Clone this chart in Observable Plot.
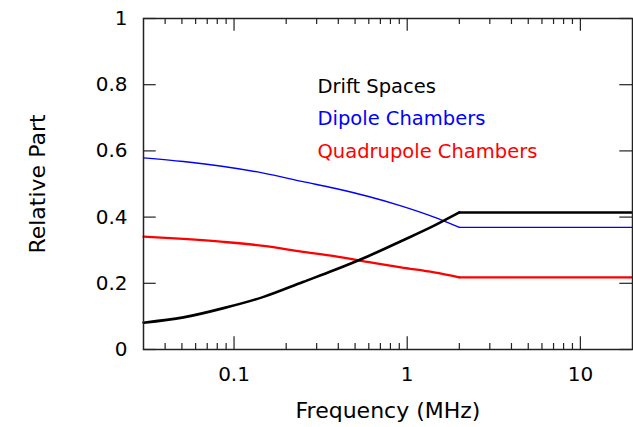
<!DOCTYPE html>
<html><head><meta charset="utf-8">
<script src="https://cdn.jsdelivr.net/npm/d3@7"></script>
<script src="https://cdn.jsdelivr.net/npm/@observablehq/plot@0.6"></script>
<style>body{margin:0;background:#fff}</style>
</head><body><div id="chart"></div>
<script>
// Data
const frequency          = [0.03, 0.051, 0.087, 0.148, 0.25, 0.38, 0.59, 0.92, 1.43, 2, 20];
const driftSpaces        = [0.081, 0.097, 0.125, 0.159, 0.204, 0.240, 0.281, 0.327, 0.374, 0.414, 0.414];
const dipoleChambers     = [0.579, 0.568, 0.553, 0.533, 0.507, 0.487, 0.463, 0.434, 0.400, 0.369, 0.369];
const quadrupoleChambers = [0.341, 0.334, 0.325, 0.313, 0.295, 0.282, 0.265, 0.248, 0.233, 0.218, 0.218];
const breakFrequency = 2;
const seriesNames  = ["Drift Spaces", "Dipole Chambers", "Quadrupole Chambers"];
const seriesColors = ["#000000", "#0000ff", "#ff0000"];
const seriesWidths = [2.6, 1.4, 2.3];
const xTickValues = [0.1, 1, 10];
const xTickLabels = ["0.1", "1", "10"];
const xMinorTicks = [0.04,0.05,0.06,0.07,0.08,0.09,0.2,0.3,0.4,0.5,0.6,0.7,0.8,0.9,2,3,4,5,6,7,8,9];
const yTickValues = [0, 0.2, 0.4, 0.6, 0.8, 1];
const yTickLabels = ["0", "0.2", "0.4", "0.6", "0.8", "1"];
const xLabel = "Frequency (MHz)";
const yLabel = "Relative Part";

const seriesValues = [driftSpaces, dipoleChambers, quadrupoleChambers];
const rows = seriesNames.map((name, s) => frequency.map((f, i) => ({series: name, f, v: seriesValues[s][i]})));

const W = 633, H = 427, mL = 143, mR = 1, mT = 18, mB = 78;
const fw = W - mL - mR, fh = H - mT - mB;
const major = 12.7, minor = 6;

const seriesMarks = s => [
  Plot.line(rows[s].filter(d => d.f <= breakFrequency), {x: "f", y: "v", curve: "monotone-x", stroke: seriesColors[s], strokeWidth: seriesWidths[s]}),
  Plot.line(rows[s].filter(d => d.f >= breakFrequency), {x: "f", y: "v", stroke: seriesColors[s], strokeWidth: seriesWidths[s]})
];

const chart = Plot.plot({
  width: W, height: H,
  marginLeft: mL, marginRight: mR, marginTop: mT, marginBottom: mB,
  style: {fontFamily: "'DejaVu Sans', sans-serif", background: "white", color: "black"},
  x: {type: "log", domain: [0.03, 20]},
  y: {domain: [0, 1]},
  marks: [
    Plot.axisX(xTickValues, {tickSize: 0, tickPadding: 17, fontSize: 20, label: null,
      tickFormat: d => xTickLabels[xTickValues.indexOf(d)]}),
    Plot.axisY(yTickValues, {tickSize: 0, tickPadding: 16, fontSize: 20, label: null,
      tickFormat: d => yTickLabels[yTickValues.indexOf(d)]}),
    // inward ticks, bottom & top
    Plot.tickX(xTickValues, {x: d => d, insetTop: fh - major, stroke: "#222", strokeWidth: 1.2}),
    Plot.tickX(xTickValues, {x: d => d, insetBottom: fh - major, stroke: "#222", strokeWidth: 1.2}),
    Plot.tickX(xMinorTicks, {x: d => d, insetTop: fh - minor, stroke: "#222", strokeWidth: 1.2}),
    Plot.tickX(xMinorTicks, {x: d => d, insetBottom: fh - minor, stroke: "#222", strokeWidth: 1.2}),
    // inward ticks, left & right
    Plot.tickY(yTickValues, {y: d => d, insetRight: fw - major, stroke: "#222", strokeWidth: 1.2}),
    Plot.tickY(yTickValues, {y: d => d, insetLeft: fw - major, stroke: "#222", strokeWidth: 1.2}),
    // series (blue, red, black on top)
    ...seriesMarks(1),
    ...seriesMarks(2),
    ...seriesMarks(0),
    Plot.frame({stroke: "#222", strokeWidth: 1.5}),
    // legend texts
    ...seriesNames.map((name, i) => Plot.text([name], {
      text: d => d, frameAnchor: "top-left", textAnchor: "start", lineAnchor: "bottom",
      dx: 174, dy: 74 + i * 32.5, fill: seriesColors[i], fontSize: 19.5
    })),
    // axis labels
    Plot.text([xLabel], {text: d => d, frameAnchor: "bottom", textAnchor: "middle", lineAnchor: "middle", dy: 61, fontSize: 22, fill: "black"}),
    Plot.text([yLabel], {text: d => d, frameAnchor: "left", textAnchor: "middle", lineAnchor: "middle", rotate: -90, dx: -106, fontSize: 22, fill: "black"})
  ]
});
document.getElementById("chart").appendChild(chart);
</script>
</body></html>
